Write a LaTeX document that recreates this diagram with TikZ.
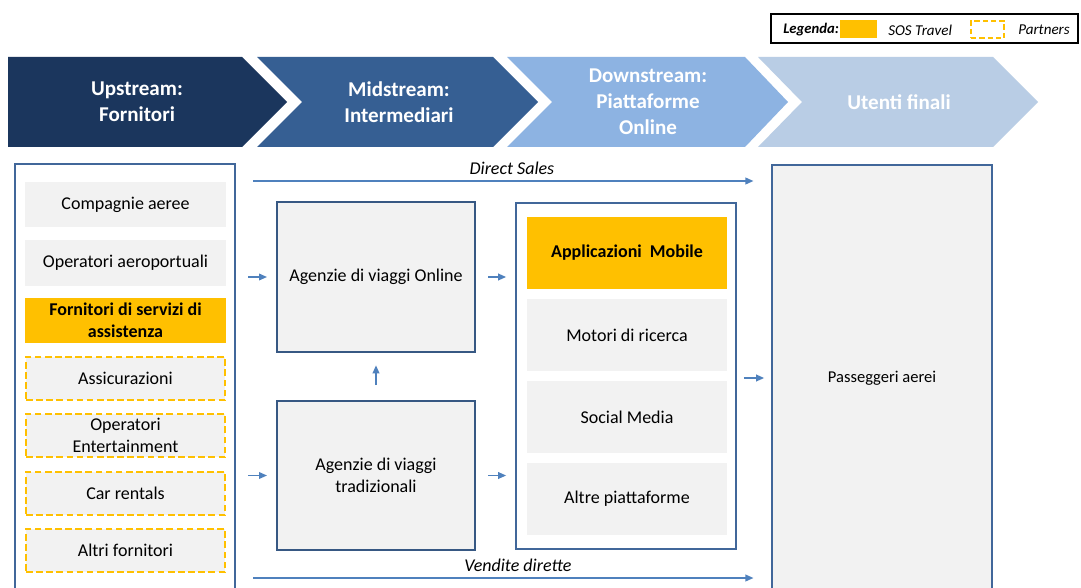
\documentclass[tikz,border=0pt]{standalone}
\usepackage{fontspec}
\setmainfont{Carlito}
\usetikzlibrary{arrows.meta,fit}
\definecolor{navy}{HTML}{1B365D}
\definecolor{midblue}{HTML}{365F93}
\definecolor{lightblue}{HTML}{8DB3E2}
\definecolor{paleblue}{HTML}{B9CDE5}
\definecolor{boxline}{HTML}{41679A}
\definecolor{arrowblue}{HTML}{4F81BD}
\definecolor{sosorange}{HTML}{FFC000}
\definecolor{boxgray}{HTML}{F2F2F2}
\tikzset{
  body/.style={font=\fontsize{13.5}{16.5}\selectfont, align=center, text=black},
  boldbody/.style={font=\fontsize{13.5}{16.5}\selectfont\bfseries, align=center, text=black},
  chevtext/.style={font=\fontsize{15.8}{19.5}\selectfont\bfseries, align=center, text=white},
  outerbox/.style={draw=boxline, line width=1.8pt, fill=white, inner sep=0pt},
  graybox/.style={fill=boxgray, inner sep=0pt},
  sosbox/.style={fill=sosorange, inner sep=0pt},
  partnerbox/.style={fill=boxgray, draw=sosorange, line width=1.6pt, dash pattern=on 5pt off 2.6pt, inner sep=0pt},
  midbox/.style={fill=boxgray, draw=boxline!85!black, line width=2pt, inner sep=0pt},
  txt/.style={label={[body]center:#1}},
  btxt/.style={label={[boldbody]center:#1}},
  flow/.style={draw=arrowblue, line width=1.1pt, -{Triangle[length=6pt,width=5pt]}},
  stub/.style={flow, shorten <=9pt, shorten >=6.5pt},
}
\begin{document}
\begin{tikzpicture}[x=0.75pt,y=-0.75pt]
\clip (0,0) rectangle (1081,588);
\fill[white] (0,0) rectangle (1081,588);

% Legend
\node[draw=black, line width=1pt, fit={(771,14)(1078,43)}, inner sep=0pt] (legend) {};
\node[font=\fontsize{11}{13}\selectfont\bfseries\itshape, anchor=west, inner sep=0pt] (legtitle) at (783,30) {Legenda:};
\node[fill=sosorange, fit={(840,20)(877,38)}, inner sep=0pt] (legsos) {};
\node[font=\fontsize{11.3}{13}\selectfont\itshape, anchor=west, inner sep=0pt] (legsostext) at (888,30) {SOS Travel};
\node[draw=sosorange, line width=1.4pt, dash pattern=on 4pt off 2.2pt, fit={(971,21)(1004,38)}, inner sep=0pt] (legpart) {};
\node[font=\fontsize{11.3}{13}\selectfont\itshape, anchor=west, inner sep=0pt] (legparttext) at (1018,30) {Partners};

% Chevrons
\fill[navy] (8,57) -- (242,57) -- (287,102) -- (242,147) -- (8,147) -- cycle;
\fill[midblue] (257,57) -- (493,57) -- (538,102) -- (493,147) -- (257,147) -- (302,102) -- cycle;
\fill[lightblue] (507,57) -- (745,57) -- (788,102) -- (745,147) -- (507,147) -- (552,102) -- cycle;
\fill[paleblue] (758,57) -- (993,57) -- (1038,102) -- (993,147) -- (758,147) -- (802,102) -- cycle;
\node[chevtext] (up) at (137,102) {Upstream:\\Fornitori};
\node[chevtext] (mid) at (399,102) {Midstream:\\Intermediari};
\node[chevtext] (down) at (648,102) {Downstream:\\Piattaforme\\Online};
\node[chevtext] (users) at (899,102) {Utenti finali};

% Left supplier column
\node[outerbox, fit={(15,164)(235,592)}] (suppliers) {};
\node[graybox, fit={(25,182)(226,227)}, txt={Compagnie aeree}] (s1) {};
\node[graybox, fit={(25,240)(226,286)}, txt={Operatori aeroportuali}] (s2) {};
\node[sosbox, fit={(25,298)(226,343)}, btxt={Fornitori di servizi di\\assistenza}] (s3) {};
\node[partnerbox, fit={(26,357)(225,400)}, txt={Assicurazioni}] (s4) {};
\node[partnerbox, fit={(26,414)(225,457)}, txt={Operatori\\Entertainment}] (s5) {};
\node[partnerbox, fit={(26,472)(225,515)}, txt={Car rentals}] (s6) {};
\node[partnerbox, fit={(26,529)(225,572)}, txt={Altri fornitori}] (s7) {};

% Intermediaries
\node[midbox, fit={(277,202)(475,352)}, txt={Agenzie di viaggi Online}] (ota) {};
\node[midbox, fit={(277,401)(475,550)}, txt={Agenzie di viaggi\\tradizionali}] (tta) {};

% Platforms
\node[outerbox, fit={(516,203)(736,549)}] (platforms) {};
\node[sosbox, fit={(527,217)(727,289)}, btxt={Applicazioni\hspace{0.45em}Mobile}] (p1) {};
\node[graybox, fit={(527,299)(727,371)}, txt={Motori di ricerca}] (p2) {};
\node[graybox, fit={(527,381)(727,453)}, txt={Social Media}] (p3) {};
\node[graybox, fit={(527,463)(727,535)}, txt={Altre piattaforme}] (p4) {};

% End users
\node[outerbox, fill=boxgray, fit={(772,165)(992,592)}] (pax) {};
\node[body, font=\fontsize{12.4}{15}\selectfont] (paxtext) at (882,378) {Passeggeri aerei};

% Direct sales / vendite dirette
\coordinate (ds0) at (253,181);
\coordinate (vd0) at (253,578);
\draw[flow, shorten >=13pt] (ds0) -- node[above=1pt, body, font=\fontsize{13.5}{16.5}\selectfont\itshape] (dslabel) {Direct Sales} (ds0 -| pax.west);
\draw[flow, shorten >=13pt] (vd0) -- node[above=1pt, body, font=\fontsize{13.5}{16.5}\selectfont\itshape, xshift=4.5pt] (vdlabel) {Vendite dirette} (vd0 -| pax.west);

% Stub arrows between stages
\draw[stub] (suppliers.east |- ota.west) -- (ota.west);
\draw[stub] (ota.east) -- (ota.east -| platforms.west);
\draw[stub] (suppliers.east |- tta.west) -- (tta.west);
\draw[stub] (tta.east) -- (tta.east -| platforms.west);
\draw[flow, shorten <=11pt, shorten >=9pt] (tta.north) -- (ota.south);
\draw[flow, shorten <=5pt, shorten >=5pt] (platforms.east |- paxtext) -- (pax.west |- paxtext);
\end{tikzpicture}
\end{document}
